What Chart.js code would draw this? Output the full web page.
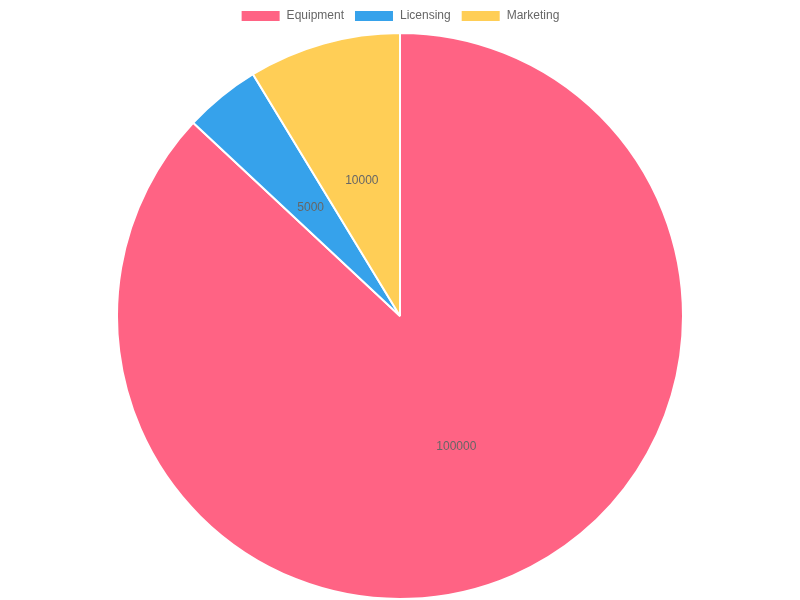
<!DOCTYPE html>
<html>
<head>
<meta charset="utf-8">
<script src="https://cdn.jsdelivr.net/npm/chart.js@4/dist/chart.umd.min.js"></script>
<style>
  html, body { margin: 0; padding: 0; background: #fff; }
  #wrap { width: 800px; height: 600px; }
</style>
</head>
<body>
<div id="wrap"><canvas id="pieChart"></canvas></div>
<script>
// Budget split pie chart
const categories = ['Equipment', 'Licensing', 'Marketing'];
const amounts = [100000, 5000, 10000];
const sliceColors = ['#FF6384', '#36A2EB', '#FFCE56'];

Chart.defaults.font.family = '"Liberation Sans", Arial, Helvetica, sans-serif';
Chart.defaults.color = '#666';

// Plugin: write each value at the centre of its slice
const valueLabels = {
    id: 'valueLabels',
    afterDatasetsDraw(chart) {
        const { ctx } = chart;
        const meta = chart.getDatasetMeta(0);
        ctx.save();
        ctx.font = '12px "Liberation Sans", Arial, sans-serif';
        ctx.fillStyle = '#666';
        ctx.textAlign = 'center';
        ctx.textBaseline = 'middle';
        meta.data.forEach((arc, i) => {
            const p = arc.getCenterPoint();
            ctx.fillText(String(amounts[i]), p.x, p.y + 1);
        });
        ctx.restore();
    }
};

new Chart(document.getElementById('pieChart'), {
    type: 'pie',
    data: {
        labels: categories,
        datasets: [{
            data: amounts,
            backgroundColor: sliceColors,
            borderColor: '#fff',
            borderWidth: 2
        }]
    },
    options: {
        responsive: true,
        maintainAspectRatio: false,
        animation: false,
        plugins: {
            legend: { position: 'top', labels: { font: { size: 12 } } },
            tooltip: { enabled: true }
        }
    },
    plugins: [valueLabels]
});
</script>
</body>
</html>
